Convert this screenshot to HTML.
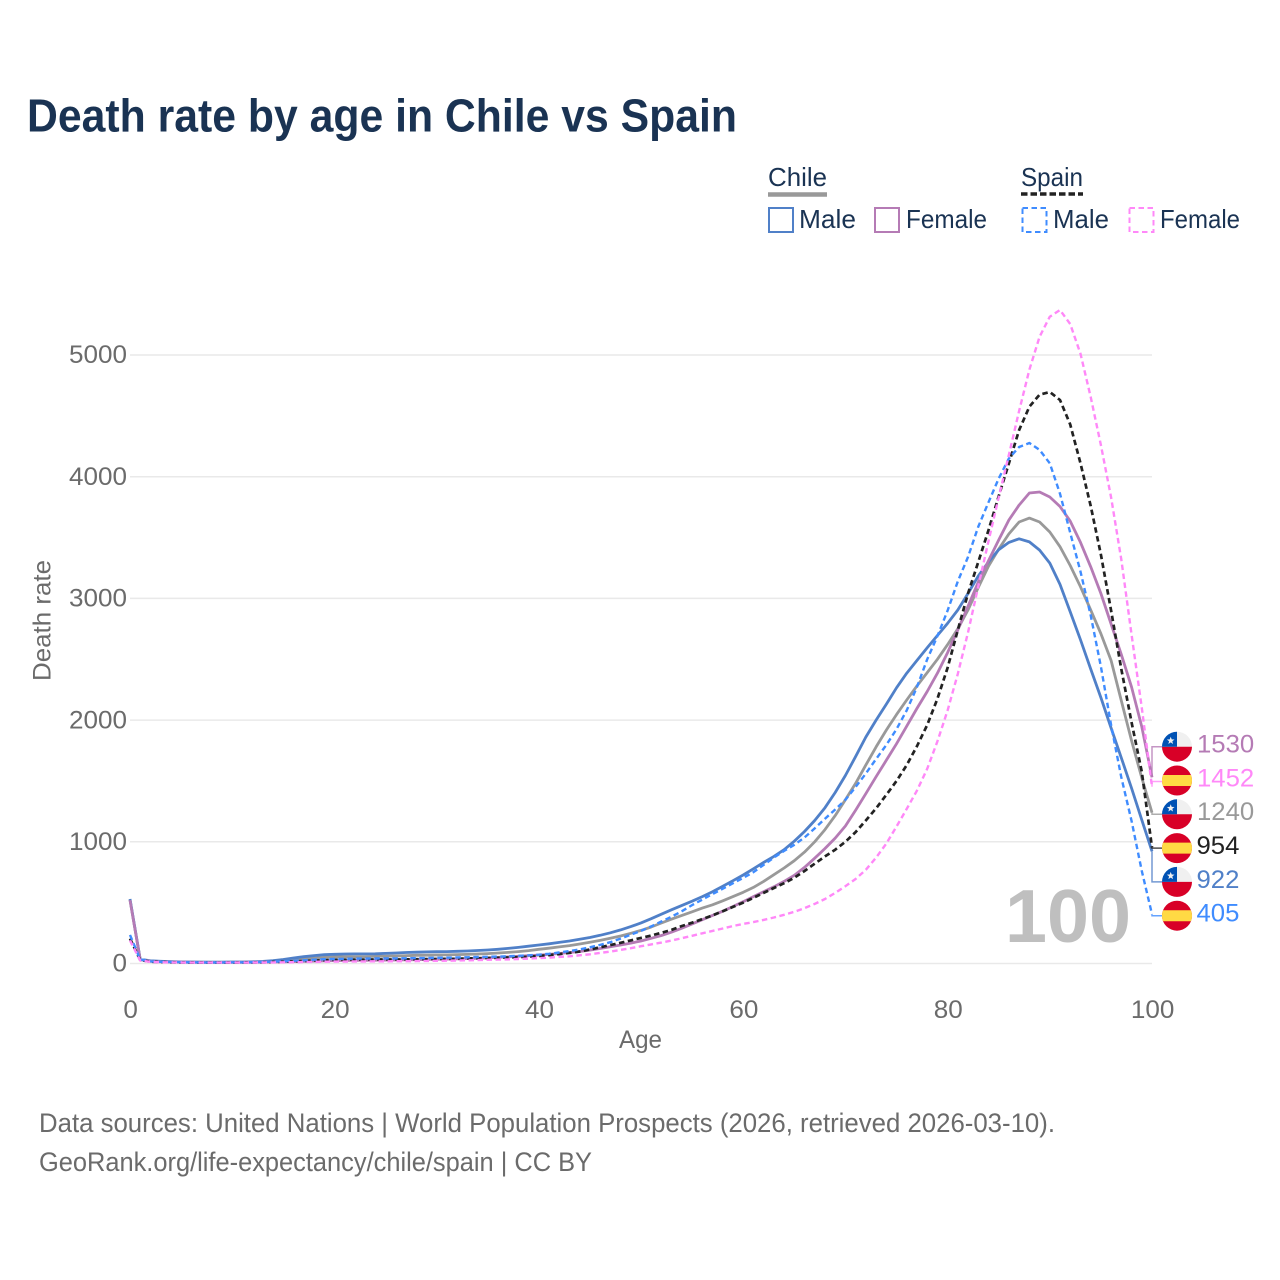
<!DOCTYPE html>
<html lang="en">
<head>
<meta charset="utf-8">
<title>Death rate by age in Chile vs Spain</title>
<style>
html,body{margin:0;padding:0;background:#fff;width:1280px;height:1280px;overflow:hidden}
svg{display:block;font-family:"Liberation Sans",sans-serif}
</style>
</head>
<body>
<svg id="chart" xmlns="http://www.w3.org/2000/svg" width="1280" height="1280" viewBox="0 0 1280 1280">
  <rect x="0" y="0" width="1280" height="1280" fill="#ffffff"/>
  <text x="27" y="131.7" font-size="46" font-weight="700" fill="#1a3353" textLength="710" lengthAdjust="spacingAndGlyphs">Death rate by age in Chile vs Spain</text>

  <g>
    <text x="768" y="186" font-size="26" fill="#1a3353" textLength="59" lengthAdjust="spacingAndGlyphs">Chile</text>
    <line x1="768" x2="827" y1="194.5" y2="194.5" stroke="#999999" stroke-width="4.5"/>
    <text x="1021" y="186" font-size="26" fill="#1a3353" textLength="62" lengthAdjust="spacingAndGlyphs">Spain</text>
    <line x1="1021" x2="1083" y1="194" y2="194" stroke="#222222" stroke-width="3.5" stroke-dasharray="6.5,3"/>

    <g>
      <rect x="769" y="208" width="24" height="24" fill="none" stroke="#5080c8" stroke-width="2"/>
      <text x="799" y="228.2" font-size="26" fill="#1a3353" textLength="57" lengthAdjust="spacingAndGlyphs">Male</text>
    </g>
    <g>
      <rect x="875" y="208" width="24" height="24" fill="none" stroke="#b57bb5" stroke-width="2"/>
      <text x="906" y="228.2" font-size="26" fill="#1a3353" textLength="81" lengthAdjust="spacingAndGlyphs">Female</text>
    </g>
    <g>
      <rect x="1022.5" y="208" width="24" height="24" fill="none" stroke="#3f8cff" stroke-width="2" stroke-dasharray="5.5,3.5"/>
      <text x="1053" y="228.2" font-size="26" fill="#1a3353" textLength="56" lengthAdjust="spacingAndGlyphs">Male</text>
    </g>
    <g>
      <rect x="1129.5" y="208" width="24" height="24" fill="none" stroke="#ff88f8" stroke-width="2" stroke-dasharray="5.5,3.5"/>
      <text x="1160" y="228.2" font-size="26" fill="#1a3353" textLength="80" lengthAdjust="spacingAndGlyphs">Female</text>
    </g>
  </g>

  <g id="grid"></g>
  <g id="yticks"></g>
  <g id="xticks"></g>
  <text x="640.5" y="1048.2" font-size="25" fill="#6b6b6b" text-anchor="middle" textLength="43" lengthAdjust="spacingAndGlyphs">Age</text>
  <text transform="translate(50.5,620.5) rotate(-90)" font-size="25" fill="#6b6b6b" text-anchor="middle" textLength="121" lengthAdjust="spacingAndGlyphs">Death rate</text>

  <text x="1005" y="942" font-size="75" font-weight="700" fill="#bfbfbf" textLength="126" lengthAdjust="spacingAndGlyphs">100</text>

  <g id="series"></g>
  <g id="labels"></g>

  <text x="39" y="1132" font-size="27" fill="#6b6b6b" textLength="1016" lengthAdjust="spacingAndGlyphs">Data sources: United Nations | World Population Prospects (2026, retrieved 2026-03-10).</text>
  <text x="39" y="1171" font-size="27" fill="#6b6b6b" textLength="553" lengthAdjust="spacingAndGlyphs">GeoRank.org/life-expectancy/chile/spain | CC BY</text>
</svg>

<script>
var ages = [];
for (var a = 0; a <= 100; a++) { ages.push(a); }

var xTicks = [0, 20, 40, 60, 80, 100];
var yTicks = [0, 1000, 2000, 3000, 4000, 5000];

var chileBoth = [
  525, 33, 20, 16, 14, 12, 11, 11, 10, 10,
  11, 11, 12, 14, 18, 24, 31, 38, 44, 50,
  54, 56, 57, 57, 58, 60, 62, 64, 67, 68,
  70, 71, 73, 75, 78, 81, 86, 91, 98, 106,
  117, 126, 136, 147, 160, 174, 190, 207, 226, 248,
  272, 300, 333, 365, 395, 425, 455, 482, 515, 550,
  585, 625, 675, 730, 785, 845, 915, 1000, 1100, 1215,
  1345, 1480, 1630, 1780, 1918, 2045, 2165, 2280, 2390, 2500,
  2620, 2750, 2905, 3090, 3265, 3405, 3530, 3628, 3660, 3628,
  3546, 3425, 3270, 3095, 2905, 2710, 2490, 2160, 1830, 1525,
  1240
];
var chileMale = [
  530, 35, 22, 18, 15, 13, 12, 11, 11, 11,
  12, 12, 14, 17, 23, 33, 45, 56, 65, 72,
  76, 78, 79, 79, 80, 83, 86, 90, 93, 95,
  97, 98, 100, 103, 107, 111, 117, 124, 132, 142,
  152, 162, 173, 185, 199, 214, 232, 252, 276, 303,
  334, 368, 405, 442, 477, 512, 550, 590, 634, 680,
  727, 778, 830, 880, 935, 1005, 1085, 1175, 1280, 1405,
  1545, 1700, 1860, 2000, 2130, 2265, 2385, 2490, 2595, 2695,
  2795, 2905, 3040, 3185, 3300, 3400, 3460, 3490, 3464, 3397,
  3290, 3115, 2890, 2660, 2420, 2185, 1935, 1690, 1440, 1180,
  922
];
var chileFemale = [
  520, 31, 18, 14, 12, 11, 10, 9, 9, 9,
  9, 10, 10, 11, 12, 14, 16, 18, 20, 22,
  24, 25, 26, 26, 27, 28, 29, 30, 31, 33,
  35, 36, 38, 40, 43, 46, 50, 54, 59, 64,
  69, 75, 82, 90, 99, 110, 123, 137, 152, 168,
  185, 207, 230, 258, 290, 325, 360, 395, 430, 468,
  508, 550, 590, 630, 675, 725, 790, 865, 945, 1030,
  1130, 1260, 1395, 1535, 1670, 1805, 1950, 2095, 2235, 2385,
  2555, 2740, 2935, 3135, 3310, 3480, 3644, 3767, 3866, 3874,
  3833, 3755, 3635, 3460, 3260, 3040, 2790, 2540, 2270, 1945,
  1530
];
var spainBoth = [
  205, 28, 15, 12, 10, 9, 8, 8, 8, 8,
  8, 9, 9, 10, 12, 14, 17, 20, 24, 27,
  30, 31, 32, 32, 33, 33, 33, 34, 35, 36,
  37, 38, 39, 41, 43, 45, 47, 49, 52, 56,
  62, 69, 77, 87, 99, 115, 133, 151, 170, 190,
  210, 230, 252, 277, 308, 335, 365, 395, 430, 465,
  500, 540, 580, 620, 660, 705, 760, 820, 880, 935,
  1000, 1080, 1175, 1275, 1385, 1500, 1630, 1785, 1960, 2175,
  2430, 2740, 3040, 3300, 3560, 3840, 4110, 4383, 4575, 4675,
  4696, 4630, 4430, 4110, 3760, 3360, 2900, 2420, 1980, 1575,
  954
];
var spainMale = [
  235, 33, 18, 14, 12, 11, 10, 9, 9, 9,
  10, 10, 11, 12, 15, 18, 22, 26, 31, 35,
  37, 39, 40, 40, 41, 42, 42, 43, 44, 45,
  47, 48, 50, 51, 53, 55, 57, 59, 63, 67,
  72, 80, 90, 102, 116, 133, 153, 175, 205, 237,
  268, 305, 345, 385, 430, 480, 525, 570, 615, 660,
  703, 750, 810, 870, 925, 975, 1035, 1110, 1190, 1265,
  1345, 1450, 1560, 1680, 1795, 1925, 2080, 2270, 2500, 2690,
  2900, 3140, 3340, 3590, 3790, 3985, 4150, 4244, 4277, 4220,
  4110, 3860, 3540, 3220, 2860, 2440, 1960, 1530, 1170, 760,
  405
];
var spainFemale = [
  190, 25, 13, 10, 9, 8, 7, 7, 7, 7,
  7, 7, 8, 8, 9, 10, 11, 12, 13, 15,
  16, 16, 17, 17, 18, 18, 19, 19, 20, 21,
  22, 23, 25, 26, 28, 30, 32, 34, 37, 40,
  44, 48, 54, 59, 67, 76, 87, 98, 112, 126,
  142, 157, 172, 189, 208, 228, 248, 268, 288, 308,
  325, 340, 358, 378, 400, 425, 455, 490, 530, 580,
  635, 694, 770, 870, 985, 1125, 1270, 1420, 1600, 1825,
  2080, 2380, 2720, 3100, 3470, 3830, 4180, 4540, 4880, 5150,
  5315, 5370, 5255, 5010, 4655, 4260, 3830, 3320, 2700, 2100,
  1452
];

var NS = 'http://www.w3.org/2000/svg';

function xScale(age) { return 130 + age * 10.22; }
function yScale(value) { return 963.5 - value * 0.1217; }

function make(tag, parent, name, attrs) {
  var el = document.createElementNS(NS, tag);
  
  
  for (var k in attrs) { el.setAttribute(k, attrs[k]); }
  parent.appendChild(el);
  return el;
}

var gridG = document.getElementById('grid');
var yTickG = document.getElementById('yticks');
var xTickG = document.getElementById('xticks');
var seriesG = document.getElementById('series');
var labelsG = document.getElementById('labels');

yTicks.forEach(function (v) {
  make('line', gridG, 'gridline-' + v, { x1: 130, x2: 1152, y1: yScale(v), y2: yScale(v), stroke: '#e9e9e9', 'stroke-width': 1.5 });
  var label = String(v);
  var t = make('text', yTickG, 'y-tick-' + v, { x: 127, y: yScale(v) + 8.2, 'font-size': 25, fill: '#6b6b6b', 'text-anchor': 'end', textLength: label.length * 14.5, lengthAdjust: 'spacingAndGlyphs' });
  t.textContent = label;
});

xTicks.forEach(function (v) {
  var label = String(v);
  var t = make('text', xTickG, 'x-tick-' + v, { x: xScale(v) + 0.7, y: 1018, 'font-size': 25, fill: '#6b6b6b', 'text-anchor': 'middle', textLength: label.length * 14.5, lengthAdjust: 'spacingAndGlyphs' });
  t.textContent = label;
});

var drawOrder = [
  { key: 'chile-both', values: chileBoth, color: '#999999', dash: null, width: 2.8, flag: 'chile', leader: '#999999' },
  { key: 'chile-male', values: chileMale, color: '#5080c8', dash: null, width: 2.8, flag: 'chile', leader: '#5080c8' },
  { key: 'chile-female', values: chileFemale, color: '#b57bb5', dash: null, width: 2.8, flag: 'chile', leader: '#b57bb5' },
  { key: 'spain-both', values: spainBoth, color: '#222222', dash: '5.5,3.5', width: 2.7, flag: 'spain', leader: '#222222' },
  { key: 'spain-male', values: spainMale, color: '#3f8cff', dash: '5.5,3.5', width: 2.4, flag: 'spain', leader: '#3f8cff' },
  { key: 'spain-female', values: spainFemale, color: '#ff88f8', dash: '5.5,3.5', width: 2.4, flag: 'spain', leader: '#ff88f8' }
];

drawOrder.forEach(function (s) {
  var d = s.values.map(function (v, i) {
    return (i ? 'L' : 'M') + xScale(ages[i]).toFixed(1) + ' ' + yScale(v).toFixed(1);
  }).join(' ');
  var attrs = { d: d, fill: 'none', stroke: s.color, 'stroke-width': s.width, 'stroke-linejoin': 'round' };
  if (s.dash) { attrs['stroke-dasharray'] = s.dash; }
  make('path', seriesG, 'line-' + s.key, attrs);
});

function drawChileFlag(g, cx, cy, key) {
  var r = 15;
  make('circle', g, 'flag-chile-white-' + key, { cx: cx, cy: cy, r: r, fill: '#f0f0f0' });
  make('path', g, 'flag-chile-red-' + key, { d: 'M' + (cx - r) + ' ' + cy + ' A' + r + ' ' + r + ' 0 0 0 ' + (cx + r) + ' ' + cy + ' Z', fill: '#d80027' });
  make('path', g, 'flag-chile-blue-' + key, { d: 'M' + cx + ' ' + cy + ' V' + (cy - r) + ' A' + r + ' ' + r + ' 0 0 0 ' + (cx - r) + ' ' + cy + ' Z', fill: '#0052b4' });
  var pts = [];
  for (var i = 0; i < 10; i++) {
    var rad = i % 2 ? 1.7 : 4;
    var ang = -Math.PI / 2 + i * Math.PI / 5;
    pts.push((cx - 6.3 + rad * Math.cos(ang)).toFixed(2) + ',' + (cy - 6 + rad * Math.sin(ang)).toFixed(2));
  }
  make('polygon', g, 'flag-chile-star-' + key, { points: pts.join(' '), fill: '#f0f0f0' });
}

function drawSpainFlag(g, cx, cy, key) {
  var r = 15;
  make('circle', g, 'flag-spain-red-' + key, { cx: cx, cy: cy, r: r, fill: '#d80027' });
  var hw = Math.sqrt(r * r - 5.5 * 5.5);
  make('path', g, 'flag-spain-yellow-' + key, {
    d: 'M' + (cx - hw) + ' ' + (cy - 5.5) + ' H' + (cx + hw) + ' A' + r + ' ' + r + ' 0 0 1 ' + (cx + hw) + ' ' + (cy + 5.5) + ' H' + (cx - hw) + ' A' + r + ' ' + r + ' 0 0 1 ' + (cx - hw) + ' ' + (cy - 5.5) + ' Z',
    fill: '#ffda44'
  });
}

var endOrder = drawOrder.slice().sort(function (p, q) {
  return q.values[100] - p.values[100];
});

endOrder.forEach(function (s, i) {
  var value = s.values[100];
  var slotY = 746.7 + i * 33.8;
  var leaderY = slotY;
  if (i === 1) { leaderY = slotY + 1; }
  var endY = yScale(value);
  var lAttrs = {
    d: 'M1152 ' + endY.toFixed(1) + ' V' + leaderY.toFixed(1) + ' H1162',
    fill: 'none', stroke: s.leader, 'stroke-width': 1.5, 'stroke-opacity': 0.8
  };
  make('path', labelsG, 'leader-' + s.key, lAttrs);
  var flagG = make('g', labelsG, 'flag-' + s.key, {});
  if (s.flag === 'chile') {
    drawChileFlag(flagG, 1177, slotY, s.key);
  } else {
    drawSpainFlag(flagG, 1177, slotY, s.key);
  }
  var label = String(value);
  var t = make('text', labelsG, 'end-label-' + s.key, {
    x: label.length === 4 ? 1197 : 1196.5, y: slotY + 5.9, 'font-size': 25, fill: s.color,
    textLength: label.length * 14.3, lengthAdjust: 'spacingAndGlyphs'
  });
  t.textContent = label;
});
</script>
</body>
</html>
